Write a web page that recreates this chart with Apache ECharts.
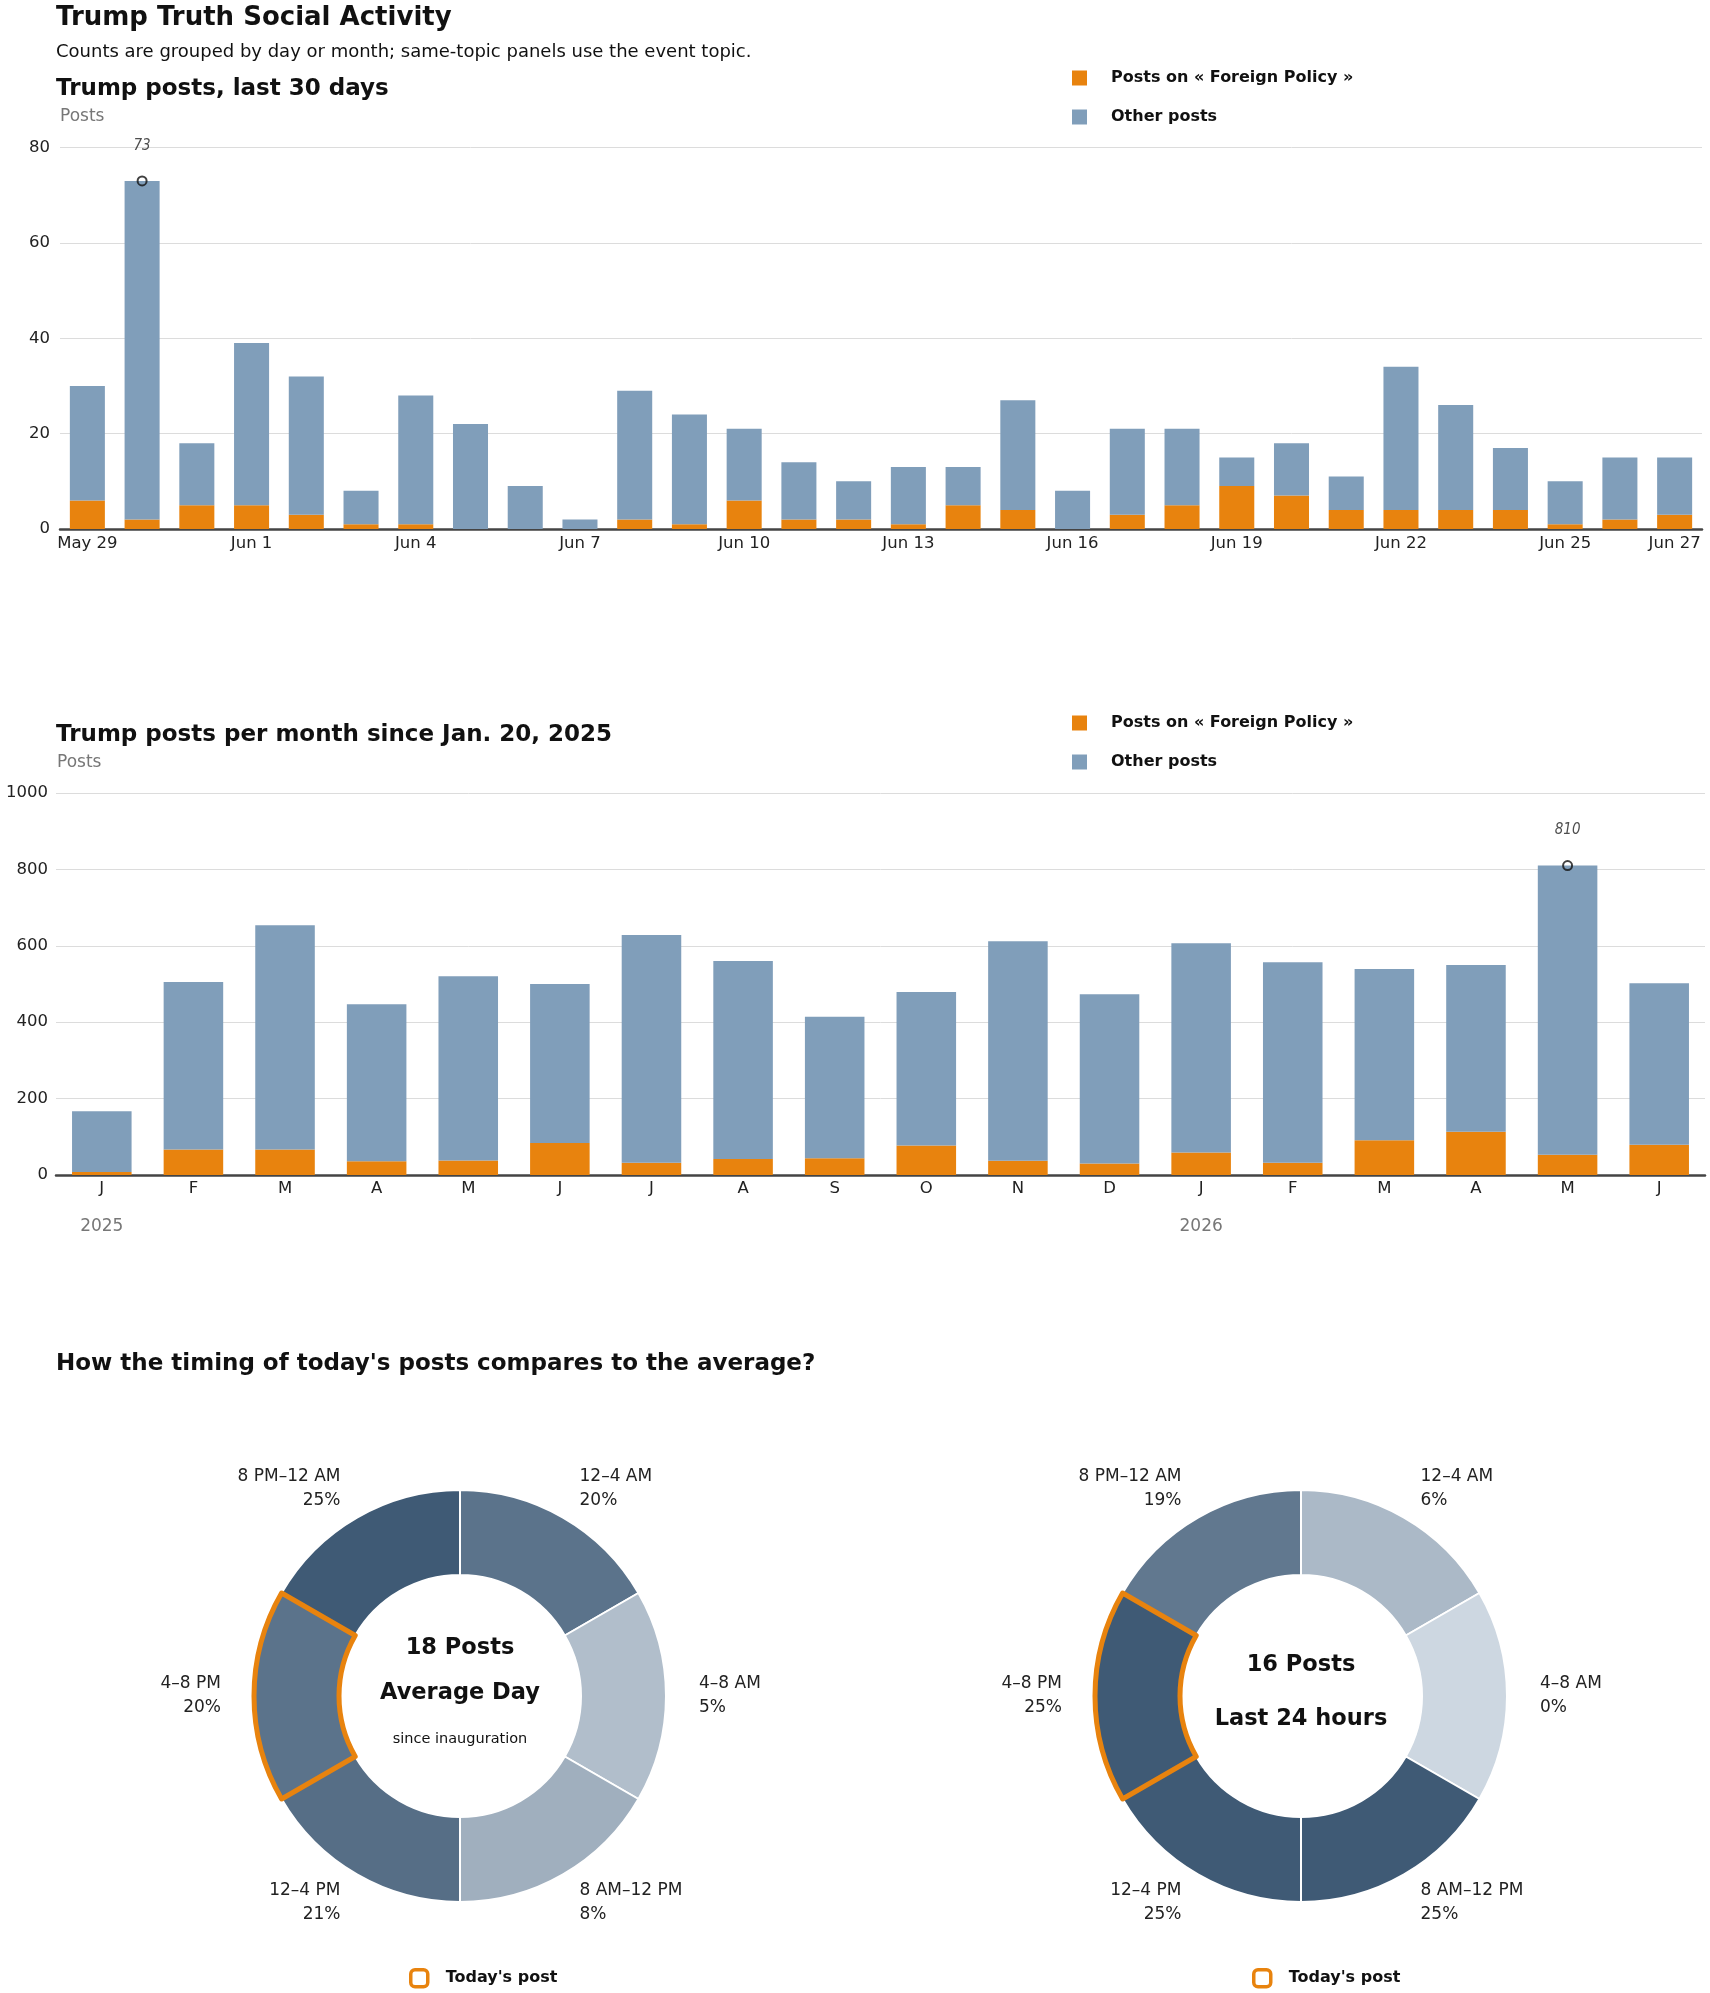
<!DOCTYPE html>
<html>
<head>
<meta charset="utf-8">
<script src="https://cdn.jsdelivr.net/npm/echarts@6/dist/echarts.min.js"></script>
<style>
  html, body { margin: 0; padding: 0; background: #fff; }
  #main { width: 1710px; height: 1993px; }
</style>
</head>
<body>
<div id="main"></div>
<script>
// daily posts, last 30 days
var dayLabels = ['May 29', 'May 30', 'May 31', 'Jun 1', 'Jun 2', 'Jun 3', 'Jun 4', 'Jun 5', 'Jun 6', 'Jun 7',
  'Jun 8', 'Jun 9', 'Jun 10', 'Jun 11', 'Jun 12', 'Jun 13', 'Jun 14', 'Jun 15', 'Jun 16', 'Jun 17',
  'Jun 18', 'Jun 19', 'Jun 20', 'Jun 21', 'Jun 22', 'Jun 23', 'Jun 24', 'Jun 25', 'Jun 26', 'Jun 27'];
var dayForeign = [6, 2, 5, 5, 3, 1, 1, 0, 0, 0, 2, 1, 6, 2, 2, 1, 5, 4, 0, 3, 5, 9, 7, 4, 4, 4, 4, 1, 2, 3];
var dayOther = [24, 71, 13, 34, 29, 7, 27, 22, 9, 2, 27, 23, 15, 12, 8, 12, 8, 23, 8, 18, 16, 6, 11, 7, 30, 22, 13, 9, 13, 12];

// monthly posts since inauguration
var monthLabels = ['J', 'F', 'M', 'A', 'M', 'J', 'J', 'A', 'S', 'O', 'N', 'D', 'J', 'F', 'M', 'A', 'M', 'J'];
var monthYears = { 0: '2025', 12: '2026' };
var monthForeign = [8, 67, 67, 36, 38, 84, 32, 42, 44, 77, 37, 30, 59, 32, 91, 113, 53, 79];
var monthOther = [159, 438, 587, 411, 482, 416, 596, 518, 370, 402, 575, 443, 548, 525, 448, 437, 757, 423];

// share of posts by time of day
var timeSlots = ['12–4 AM', '4–8 AM', '8 AM–12 PM', '12–4 PM', '4–8 PM', '8 PM–12 AM'];
var avgShare = [20, 5, 8, 21, 20, 25];
var todayShare = [6, 0, 25, 25, 25, 19];
var currentSlot = 4;

var ORANGE = '#e8830e';
var BLUE = '#809eba';
var FONT = '"DejaVu Sans", sans-serif';
var NARROW = '"Liberation Sans Narrow", "DejaVu Sans Condensed", sans-serif';

var chart = echarts.init(document.getElementById('main'));

function totals(a, b) {
  return a.map(function (v, i) { return v + b[i]; });
}
function peak(arr) {
  var idx = 0;
  arr.forEach(function (v, i) { if (v > arr[idx]) idx = i; });
  return [[idx, arr[idx]]];
}
function shareColor(p) {
  return echarts.color.lerp(Math.min(p / 25, 1), ['#cdd7e1', '#3f5a75']);
}

var dayTotal = totals(dayForeign, dayOther);
var monthTotal = totals(monthForeign, monthOther);

function yAxisFor(grid, max, interval, margin, namePad) {
  return {
    type: 'value', gridIndex: grid, min: 0, max: max, interval: interval,
    name: 'Posts', nameLocation: 'end', nameGap: 22,
    nameTextStyle: { align: 'left', color: '#777', fontSize: 17, fontFamily: FONT, padding: [0, 0, 0, namePad] },
    axisLine: { show: false }, axisTick: { show: false },
    axisLabel: {
      color: '#222', fontSize: 16.5, margin: margin, fontFamily: FONT,
      formatter: function (v) { return String(v); }
    },
    splitLine: { lineStyle: { color: '#dcdcdc', width: 1 } }
  };
}

function peakSeries(xi, data) {
  return {
    type: 'scatter', xAxisIndex: xi, yAxisIndex: xi, data: data, z: 5,
    symbol: 'circle', symbolSize: 9,
    itemStyle: { color: 'rgba(255,255,255,0)', borderColor: '#111', borderWidth: 2 },
    label: {
      show: true, position: 'top', distance: 22, fontStyle: 'italic', fontSize: 15,
      color: '#222', fontFamily: NARROW,
      formatter: function (p) { return p.value[1]; }
    }
  };
}

function pieSeries(cx, shares) {
  return {
    type: 'pie', center: [cx, 1696], radius: [121, 206], startAngle: 90, clockwise: true,
    avoidLabelOverlap: false, silent: true,
    itemStyle: { borderColor: '#fff', borderWidth: 2 },
    label: {
      show: true, position: 'outside', distanceToLabelLine: 0,
      color: '#222', fontSize: 17, lineHeight: 24, fontFamily: FONT,
      formatter: function (p) { return p.name + '\n' + p.data.pct + '%'; }
    },
    labelLine: { show: false, length: 33, length2: 0 },
    data: timeSlots.map(function (s, i) {
      return { name: s, value: 1, pct: shares[i], itemStyle: { color: shareColor(shares[i]) } };
    })
  };
}

function highlightSeries(cx) {
  return {
    type: 'pie', center: [cx, 1696], radius: [121, 206], startAngle: 90, clockwise: true,
    silent: true, z: 3, label: { show: false }, labelLine: { show: false },
    data: timeSlots.map(function (s, i) {
      var on = i === currentSlot;
      return {
        name: on ? "Today's post" : s, value: 1,
        itemStyle: on ? { color: 'rgba(0,0,0,0)', borderColor: ORANGE, borderWidth: 5 }
                      : { color: 'rgba(0,0,0,0)', borderWidth: 0 }
      };
    })
  };
}

var legendText = { fontSize: 16, fontWeight: 'bold', color: '#111', fontFamily: FONT, padding: [0, 0, 0, 19] };
function barLegend(top) {
  return {
    left: 1072, top: top, orient: 'vertical', itemGap: 23, itemWidth: 15, itemHeight: 15, padding: 0,
    icon: 'rect', selectedMode: false, textStyle: legendText,
    data: ['Posts on « Foreign Policy »', 'Other posts']
  };
}
function todayLegend(left) {
  return {
    left: left, top: 1968, itemWidth: 17, itemHeight: 17, selectedMode: false, padding: 0,
    textStyle: { fontSize: 16, fontWeight: 'bold', color: '#111', fontFamily: FONT, padding: [0, 0, 0, 13] },
    data: [{ name: "Today's post", icon: 'roundRect',
      itemStyle: { color: '#fff', borderColor: ORANGE, borderWidth: 3.5 } }]
  };
}

function heading(text, top, size, weight) {
  return {
    text: text, left: 56, top: top, padding: 0,
    textStyle: { fontSize: size, fontWeight: weight, color: '#111', fontFamily: FONT }
  };
}

function centerText(x, y, text, size, weight) {
  return {
    type: 'text', x: x, y: y,
    style: { text: text, align: 'center', verticalAlign: 'middle', font: weight + ' ' + size + 'px ' + FONT, fill: '#111' }
  };
}

var option = {
  animation: false,
  backgroundColor: '#fff',
  title: [
    heading('Trump Truth Social Activity', 5, 26, 'bold'),
    heading('Counts are grouped by day or month; same-topic panels use the event topic.', 43, 18, 'normal'),
    heading('Trump posts, last 30 days', 78, 23, 'bold'),
    heading('Trump posts per month since Jan. 20, 2025', 724, 23, 'bold'),
    heading("How the timing of today's posts compares to the average?", 1353, 23, 'bold')
  ],
  legend: [barLegend(70), barLegend(715), todayLegend(409), todayLegend(1252)],
  grid: [
    { left: 60, right: 8, top: 147.5, height: 381.5 },
    { left: 56, right: 5, top: 793, height: 382 }
  ],
  xAxis: [
    {
      type: 'category', gridIndex: 0, data: dayLabels,
      axisTick: { show: false },
      axisLine: { lineStyle: { color: '#444', width: 2.5 } },
      axisLabel: {
        color: '#222', fontSize: 16.5, margin: 6, fontFamily: FONT,
        interval: function (i) { return i % 3 === 0 || i === dayLabels.length - 1; }
      }
    },
    {
      type: 'category', gridIndex: 1, data: monthLabels,
      axisTick: { show: false },
      axisLine: { lineStyle: { color: '#444', width: 2.5 } },
      axisLabel: {
        interval: 0, margin: 4,
        formatter: function (v, i) {
          return monthYears[i] ? '{m|' + v + '}\n{y|' + monthYears[i] + '}' : '{m|' + v + '}';
        },
        rich: {
          m: { color: '#222', fontSize: 16.5, lineHeight: 20, fontFamily: FONT },
          y: { color: '#777', fontSize: 17, lineHeight: 56, fontFamily: FONT }
        }
      }
    }
  ],
  yAxis: [yAxisFor(0, 80, 20, 10, 0), yAxisFor(1, 1000, 200, 8, 1)],
  graphic: [
    centerText(460, 1648, '18 Posts', 22.5, 'bold'),
    centerText(460, 1693, 'Average Day', 22.5, 'bold'),
    centerText(460, 1739, 'since inauguration', 14.5, 'normal'),
    centerText(1301, 1665, '16 Posts', 22.5, 'bold'),
    centerText(1301, 1719, 'Last 24 hours', 22.5, 'bold')
  ],
  series: [
    { name: 'Posts on « Foreign Policy »', type: 'bar', xAxisIndex: 0, yAxisIndex: 0, stack: 'day',
      barWidth: '64%', itemStyle: { color: ORANGE }, data: dayForeign },
    { name: 'Other posts', type: 'bar', xAxisIndex: 0, yAxisIndex: 0, stack: 'day',
      barWidth: '64%', itemStyle: { color: BLUE }, data: dayOther },
    peakSeries(0, peak(dayTotal)),
    { name: 'Posts on « Foreign Policy »', type: 'bar', xAxisIndex: 1, yAxisIndex: 1, stack: 'month',
      barWidth: '65%', itemStyle: { color: ORANGE }, data: monthForeign },
    { name: 'Other posts', type: 'bar', xAxisIndex: 1, yAxisIndex: 1, stack: 'month',
      barWidth: '65%', itemStyle: { color: BLUE }, data: monthOther },
    peakSeries(1, peak(monthTotal)),
    pieSeries(460, avgShare),
    pieSeries(1301, todayShare),
    highlightSeries(460),
    highlightSeries(1301)
  ]
};

chart.setOption(option);

window.addEventListener('resize', function () {
  chart.resize();
});
</script>
</body>
</html>
